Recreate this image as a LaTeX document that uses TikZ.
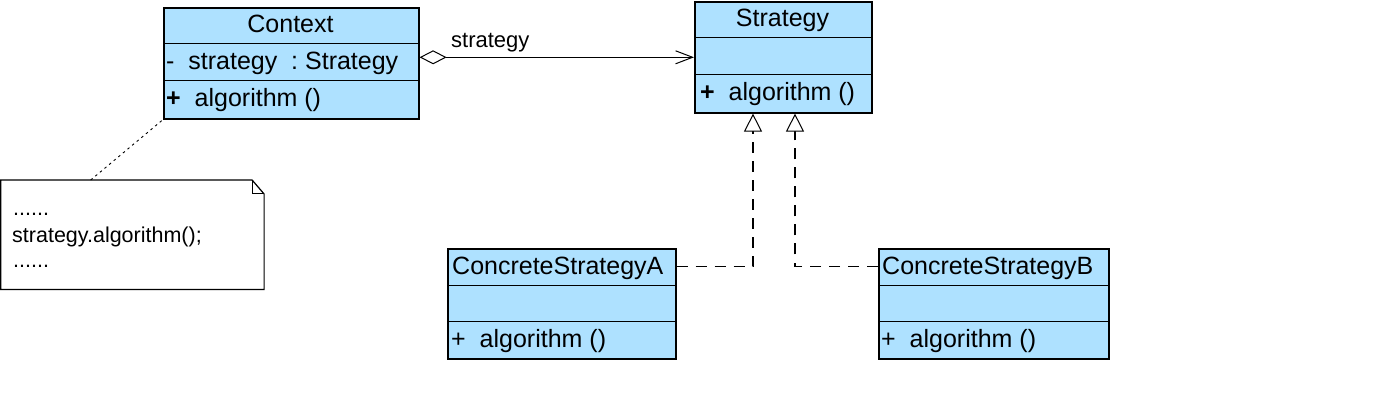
\documentclass[tikz,border=0pt]{standalone}
\usepackage{fontspec}
\setmainfont{Liberation Sans}
\usetikzlibrary{arrows.meta}
\definecolor{clsfill}{RGB}{174,225,255}
\begin{document}
\begin{tikzpicture}[x=1pt,y=-1pt,
  cls/.style={draw, line width=1.6pt, fill=clsfill, inner sep=0pt, anchor=north west},
  div/.style={line width=1pt},
  txt/.style={inner sep=0pt, font=\fontsize{25pt}{30pt}\selectfont},
  small/.style={inner sep=0pt, font=\fontsize{22pt}{26pt}\selectfont},
  notetxt/.style={inner sep=0pt, anchor=base west, font=\fontsize{21.5pt}{26pt}\selectfont},
  real/.style={line width=1.9pt, dash pattern=on 11pt off 8pt,
    -{Triangle[open, length=18pt, width=18pt, line width=1pt, fill=white]}},
  agg/.style={line width=1pt,
    {Diamond[open, length=27pt, width=14pt, fill=white]}-{Straight Barb[length=17pt, width=13pt]}},
  anchorline/.style={line width=0.9pt, dash pattern=on 2.5pt off 3.5pt}]
\useasboundingbox (0,0) rectangle (1395,414);

% Context
\node[cls, minimum width=255pt, minimum height=111pt] (ctx) at (163,7) {};
\draw[div] (ctx.west |- 0,44) -- (ctx.east |- 0,44);
\draw[div] (ctx.west |- 0,81) -- (ctx.east |- 0,81);
\node[txt, anchor=base] (ctxN) at (290.5,33) {Context};
\node[txt, anchor=base west] (ctxA) at (166,70) {-\ \ strategy\ \ :\ Strategy};
\node[txt, anchor=base west] (ctxM) at (166,107) {\textbf{+}\ \ algorithm ()};

% Strategy
\node[cls, minimum width=177pt, minimum height=111pt] (strat) at (694,1) {};
\draw[div] (strat.west |- 0,38) -- (strat.east |- 0,38);
\draw[div] (strat.west |- 0,75) -- (strat.east |- 0,75);
\node[txt, anchor=base] (stratN) at (782.5,27) {Strategy};
\node[txt, anchor=base west] (stratM) at (700,101) {\textbf{+}\ \ algorithm ()};

% ConcreteStrategyA
\node[cls, minimum width=228pt, minimum height=110pt] (csa) at (447,248) {};
\draw[div] (csa.west |- 0,285) -- (csa.east |- 0,285);
\node[txt, anchor=base west] (csaN) at (452,274) {ConcreteStrategyA};
\draw[div] (csa.west |- 0,321) -- (csa.east |- 0,321);
\node[txt, anchor=base west] (csaM) at (451,347) {+\ \ algorithm ()};

% ConcreteStrategyB
\node[cls, minimum width=230pt, minimum height=110pt] (csb) at (878,248) {};
\draw[div] (csb.west |- 0,285) -- (csb.east |- 0,285);
\node[txt, anchor=base west] (csbN) at (882,274) {ConcreteStrategyB};
\draw[div] (csb.west |- 0,321) -- (csb.east |- 0,321);
\node[txt, anchor=base west] (csbM) at (881,347) {+\ \ algorithm ()};

% Note
\node[inner sep=0pt, minimum width=263pt, minimum height=109pt, anchor=north west] (note) at (0.7,180) {};
\draw[line width=1.2pt] (note.north west) -- ([xshift=-12pt]note.north east)
  -- ([yshift=-14pt]note.north east) -- (note.south east) -- (note.south west) -- cycle;
\draw[line width=1pt] ([xshift=-12pt]note.north east) -- ([xshift=-12pt,yshift=-14pt]note.north east)
  -- ([yshift=-14pt]note.north east);
\node[notetxt] (n1) at (13,216) {......};
\node[notetxt] (n2) at (12,243) {strategy.algorithm();};
\node[notetxt] (n3) at (13,268) {......};

% connectors
\draw[anchorline] ([xshift=90pt]note.north west) -- (ctx.south west);
\draw[agg] (strat.west -| ctx.east) -- (strat.west);
\node[small, anchor=base west] (lbl) at (451,48) {strategy};
\draw[real] ([yshift=-18.5pt]csa.north east) -| ([xshift=59pt]strat.south west);
\draw[real] ([yshift=-18.5pt]csb.north west) -| ([xshift=101pt]strat.south west);
\end{tikzpicture}
\end{document}
